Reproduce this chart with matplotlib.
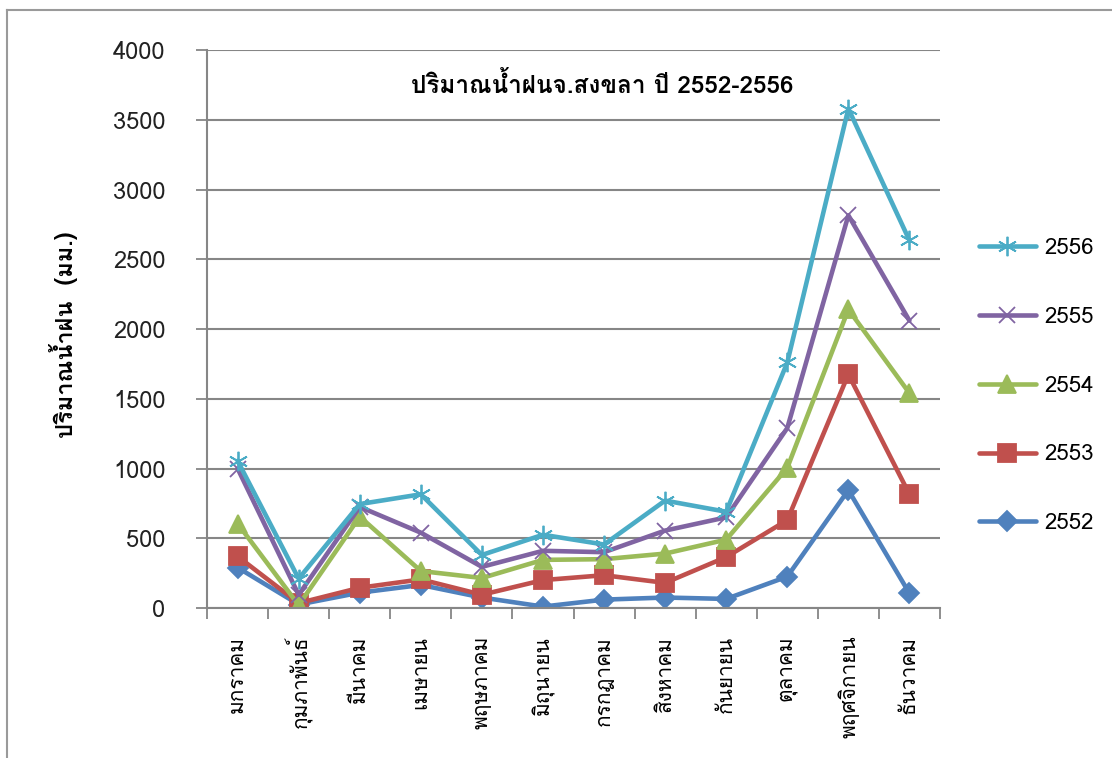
import matplotlib
matplotlib.use('Agg')
import matplotlib.pyplot as plt
from matplotlib import font_manager
from matplotlib.lines import Line2D
from fontTools.ttLib import TTFont

# Data (rainfall, mm)
months = ['มกราคม', 'กุมภาพันธ์', 'มีนาคม', 'เมษายน', 'พฤษภาคม', 'มิถุนายน',
          'กรกฎาคม', 'สิงหาคม', 'กันยายน', 'ตุลาคม', 'พฤศจิกายน', 'ธันวาคม']
years = ['2552', '2553', '2554', '2555', '2556']
rain_2552 = [290, 25, 110, 165, 75, 10, 60, 75, 65, 225, 845, 105]
rain_2553 = [370, 35, 145, 205, 95, 200, 235, 180, 365, 630, 1675, 815]
rain_2554 = [605, 20, 655, 265, 215, 345, 350, 390, 490, 1005, 2140, 1540]
rain_2555 = [1000, 95, 725, 540, 295, 410, 400, 555, 650, 1290, 2815, 2060]
rain_2556 = [1055, 210, 745, 815, 380, 525, 455, 770, 690, 1760, 3580, 2635]

# find a font that has Thai glyphs
def find_thai_font():
    found = []
    for f in font_manager.fontManager.ttflist:
        try:
            tt = TTFont(f.fname, fontNumber=0, lazy=True)
            cmap = tt.getBestCmap()
            if cmap and 0x0E1B in cmap and 0x0E49 in cmap:
                found.append(f.name)
        except Exception:
            pass
    return found

thai = find_thai_font()
family = [thai[0]] if thai else []
plt.rcParams['font.family'] = family + ['DejaVu Sans']

fig = plt.figure(figsize=(11.12, 7.58), dpi=100)
ax = fig.add_axes([0.1862, 0.1979, 0.8453 - 0.1862, 0.934 - 0.1979])

series = [
    ('2556', rain_2556, '#4BACC6', (6, 2, 0), 14),
    ('2555', rain_2555, '#8064A2', 'x', 12),
    ('2554', rain_2554, '#9BBB59', '^', 13),
    ('2553', rain_2553, '#C0504D', 's', 13),
    ('2552', rain_2552, '#4F81BD', 'D', 10),
]
x = list(range(len(months)))
handles = []
for name, vals, col, mk, ms in reversed(series):
    ln, = ax.plot(x, vals, color=col, lw=3.3, marker=mk, ms=ms,
                  mec=col, mfc=col, mew=1.3, solid_joinstyle='round',
                  solid_capstyle='round', label=name)
    handles.append(ln)

ax.set_xlim(-0.5, 11.5)
ax.set_ylim(0, 4000)
ax.set_yticks(range(0, 4001, 500))
ax.set_xticks(x)
ax.set_xticklabels(months, rotation=90, fontsize=15, va='top', ha='center')
ax.set_xticks([i + 0.5 for i in range(-1, 12)], minor=True)
ax.tick_params(axis='x', which='major', length=0, pad=20)
ax.tick_params(axis='x', which='minor', length=8, width=1.3, color='#868686')
ax.tick_params(axis='y', length=8, width=1.3, color='#868686', pad=22,
               labelsize=17, labelcolor='#222222')
ax.yaxis.grid(True, color='#868686', lw=1.5)
ax.set_axisbelow(True)
for s in ['top', 'right']:
    ax.spines[s].set_visible(False)
for s in ['left', 'bottom']:
    ax.spines[s].set_color('#868686')
    ax.spines[s].set_linewidth(1.5)

ax.set_ylabel('ปริมาณน้ำฝน  (มม.)', fontsize=17, fontweight='bold')
ax.yaxis.set_label_coords(-0.176, 0.49)

fig.text(602 / 1112, 1 - 85 / 758, 'ปริมาณน้ำฝนจ.สงขลา ปี 2552-2556',
         ha='center', va='center', fontsize=17.5, fontweight='bold')

leg = fig.legend(handles=handles[::-1], loc='center left',
                 bbox_to_anchor=(0.880, 1 - 386 / 758), frameon=False,
                 fontsize=16, handlelength=2.6, labelspacing=2.15,
                 handletextpad=0.35, borderaxespad=0, borderpad=0)

# outer frame
fig.add_artist(Line2D([7 / 1112, 1], [1 - 10 / 758, 1 - 10 / 758],
                      transform=fig.transFigure, color='#9a9a9a', lw=1.5))
fig.add_artist(Line2D([7 / 1112, 7 / 1112], [0, 1 - 10 / 758],
                      transform=fig.transFigure, color='#9a9a9a', lw=1.5))

fig.savefig('out.png', dpi=100)
